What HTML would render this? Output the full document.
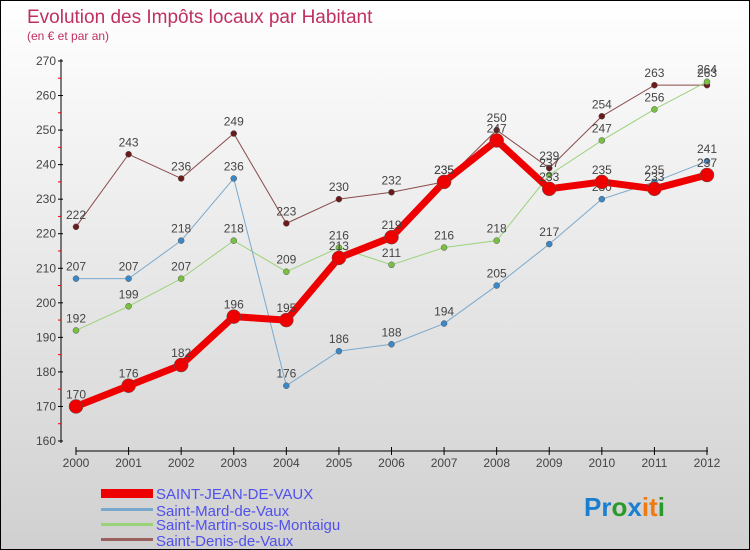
<!DOCTYPE html>
<html><head><meta charset="utf-8"><style>
body{margin:0}
#c{width:748px;height:548px;border:1px solid #000;background:linear-gradient(#fff,#d0d0d0);position:relative;font-family:"Liberation Sans",sans-serif;overflow:hidden}
svg text{font-family:"Liberation Sans",sans-serif}
</style></head><body>
<div id="c">
<svg id="s" width="748" height="548">
<text x="26" y="22" font-size="19" fill="#c0305e">Evolution des Impôts locaux par Habitant</text>
<text x="26" y="39" font-size="12" fill="#c0305e">(en € et par an)</text>
<g id="axes"></g><g id="series"></g>
<g>
<rect x="100" y="488" width="52" height="9" fill="#e00"/>
<text x="155" y="498" font-size="15" fill="#5050ee">SAINT-JEAN-DE-VAUX</text>
<rect x="100" y="507" width="52" height="3" fill="#7aa8cc"/>
<text x="155" y="515" font-size="15" fill="#5050ee">Saint-Mard-de-Vaux</text>
<rect x="100" y="522" width="52" height="3" fill="#9ad27a"/>
<text x="155" y="529" font-size="15" fill="#5050ee">Saint-Martin-sous-Montaigu</text>
<rect x="100" y="537" width="52" height="3" fill="#9a6060"/>
<text x="155" y="545" font-size="15" fill="#5050ee">Saint-Denis-de-Vaux</text>
</g>
<g font-size="26" font-weight="bold">
<text x="583" y="515"><tspan fill="#1a7fd0">Pr</tspan><tspan fill="#2a9a2a">o</tspan><tspan fill="#1a7fd0">x</tspan><tspan fill="#f07a10">it</tspan><tspan fill="#2a9a2a">i</tspan></text>
</g>
</svg>
</div>
<script>
const years=[2000,2001,2002,2003,2004,2005,2006,2007,2008,2009,2010,2011,2012];
const yTicks=[160,170,180,190,200,210,220,230,240,250,260,270];
const sjean=[170,176,182,196,195,213,219,235,247,233,235,233,237];
const smard=[207,207,218,236,176,186,188,194,205,217,230,235,241];
const smartin=[192,199,207,218,209,216,211,216,218,237,247,256,264];
const sdenis=[222,243,236,249,223,230,232,235,250,239,254,263,263];
const NS="http://www.w3.org/2000/svg";
const xs=i=>75+i*(706-75)/12;
const ys=v=>60+(270-v)*(380/110);
function mk(tag,at,parent){const e=document.createElementNS(NS,tag);for(const k in at)e.setAttribute(k,at[k]);parent.appendChild(e);return e;}
const ax=document.getElementById('axes');
let l=mk('line',{x1:60,y1:58,x2:60,y2:442,stroke:'#000','stroke-width':1},ax);


yTicks.forEach(v=>{
 const y=ys(v);
 const t=mk('line',{x1:57,y1:y,x2:62,y2:y,stroke:'#000'},ax);
 
 
 if(v<270){const m=mk('line',{x1:57,y1:y-17.3,x2:60,y2:y-17.3,stroke:'#e00'},ax);
 
 }
 const tx=mk('text',{x:55,y:y+4,'font-size':12,fill:'#444','text-anchor':'end'},ax);
 tx.textContent=v;
 
 
});
l=mk('line',{x1:75,y1:450,x2:707,y2:450,stroke:'#000','stroke-width':1},ax);


years.forEach((yr,i)=>{
 const x=xs(i);
 const t=mk('line',{x1:x,y1:446,x2:x,y2:454,stroke:'#000'},ax);
 
 
 const tx=mk('text',{x:x,y:466,'font-size':12,fill:'#444','text-anchor':'middle'},ax);
 tx.textContent=yr;
 
 
});
const sg=document.getElementById('series');
function draw(vals,color,dot,w,r,name){
 const g=mk('g',{},sg);
 
 
 const p=mk('polyline',{points:vals.map((v,i)=>xs(i)+','+ys(v)).join(' '),fill:'none',stroke:color,'stroke-width':w,'stroke-linejoin':'round'},g);
 
 
 vals.forEach((v,i)=>{
  const c=mk('circle',{cx:xs(i),cy:ys(v),r:r,fill:dot,stroke:'#555','stroke-width':0.5},g);
  
  
  const t=mk('text',{x:xs(i),y:ys(v)-8,'font-size':12,fill:'#444','text-anchor':'middle'},g);
  t.textContent=v;
  
  
 });
}
draw(sdenis,'#8a4a4a','#6a1a1a',1,3,'saint-denis-series');
draw(smartin,'#9ad27a','#7ac040',1,3,'saint-martin-series');
draw(smard,'#7aa8cc','#3a88c8',1,3,'saint-mard-series');
draw(sjean,'#ee0000','#ee0000',7,7,'saint-jean-series');
</script>
</body></html>
